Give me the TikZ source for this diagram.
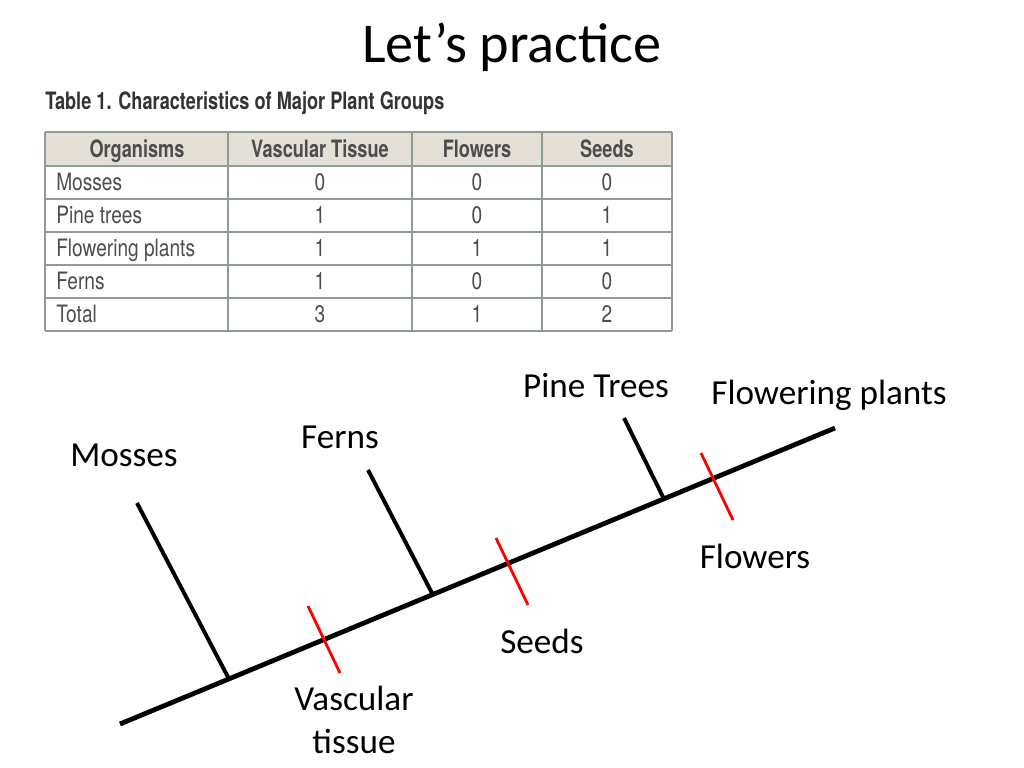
\documentclass[tikz,border=0pt]{standalone}
\usepackage{fontspec}
\setmainfont{Carlito}
\newfontfamily\tabfont[FakeStretch=0.8]{TeX Gyre Heros}
\newfontfamily\tabboldfont[FakeStretch=0.76]{TeX Gyre Heros Bold}
\usepackage{xcolor}
\definecolor{gridgray}{HTML}{8E9C93}
\definecolor{headfill}{HTML}{E4E0D8}
\definecolor{tabtext}{HTML}{4D4D4D}

\begin{document}
\begin{tikzpicture}[x=0.025cm, y=-0.025cm,
              lbl/.style = {font=\fontsize{25}{30}\selectfont, inner sep=0, align=center},
              cell/.style = {font=\tabfont\fontsize{17}{20}\selectfont, text=tabtext, inner sep=0, anchor=base},
              head/.style = {cell, font=\tabboldfont\fontsize{17}{20}\selectfont},
              stem/.style = {line width=2.8pt},
              trait/.style = {red, line width=2pt}]
  \useasboundingbox (0,0) rectangle (1024,768);

  % title and table
  \node[font=\fontsize{40}{48}\selectfont, inner sep=0] (title) at (512,47) {Let’s practice};
  \node[font=\tabboldfont\fontsize{17}{20}\selectfont, text=black!80, inner sep=0, anchor=west] (caption) at (45,103)
    {Table 1. Characteristics of Major Plant Groups};

  \fill[headfill] (45,132) rectangle (672,166);
  \foreach \y in {132,166,199,232,265,298,331}
    \draw[gridgray, line width=1.8pt] (45,\y) -- (672,\y);
  \foreach \x in {45,228,412,542,672}
    \draw[gridgray, line width=1.8pt] (\x,132) -- (\x,331);

  \node[head] (hOrg) at (137,157) {Organisms};
  \node[head] (hVasc) at (320,157) {Vascular Tissue};
  \node[head] (hFlow) at (477,157) {Flowers};
  \node[head] (hSeed) at (607,157) {Seeds};

  \foreach \name/\v/\f/\s [count=\i] in {Mosses/0/0/0, Pine trees/1/0/1,
      Flowering plants/1/1/1, Ferns/1/0/0, Total/3/1/2} {
    \node[cell, anchor=base west] (org\i) at (56,157+33*\i) {\name};
    \node[cell] (vasc\i) at (320,157+33*\i) {\v};
    \node[cell] (flow\i) at (477,157+33*\i) {\f};
    \node[cell] (seed\i) at (607,157+33*\i) {\s};
  }

  % cladogram
  \coordinate (root) at (120,724);
  \coordinate (tip) at (835,428);
  \coordinate (mossJoin) at (229,679);
  \coordinate (fernJoin) at (433,595);
  \coordinate (pineJoin) at (664,499);
  \coordinate (mossEnd) at (137,503);
  \coordinate (fernEnd) at (368,470);
  \coordinate (pineEnd) at (624,418);

  \draw[line width=3.4pt] (root) -- (tip);
  \draw[stem] (mossEnd) -- (mossJoin);
  \draw[stem] (fernEnd) -- (fernJoin);
  \draw[stem] (pineEnd) -- (pineJoin);

  \coordinate (vascA) at (308,606); \coordinate (vascB) at (340,673);
  \coordinate (seedA) at (496,538); \coordinate (seedB) at (528,605);
  \coordinate (flowA) at (701,453); \coordinate (flowB) at (733,520);
  \draw[trait] (vascA) -- (vascB);
  \draw[trait] (seedA) -- (seedB);
  \draw[trait] (flowA) -- (flowB);

  \node[lbl] (mosses) at (124,455) {Mosses};
  \node[lbl] (ferns) at (340,437) {Ferns};
  \node[lbl] (pine) at (596,386) {Pine Trees};
  \node[lbl] (flowering) at (829,395) {Flowering plants};
  \node[lbl] (flowers) at (755,556) {Flowers};
  \node[lbl] (seeds) at (542,641) {Seeds};
  \node[lbl] (vascular) at (354,720) {Vascular\\tissue};
\end{tikzpicture}
\end{document}
